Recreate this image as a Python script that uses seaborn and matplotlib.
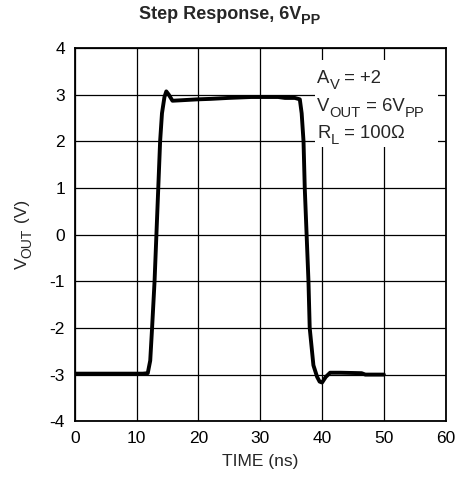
import numpy as np
import pandas as pd
import seaborn as sns
import matplotlib.pyplot as plt
from matplotlib.transforms import offset_copy

# waveform (ns, V)
time_ns = [0.0, 5.0, 11.0, 11.8, 12.2, 12.5, 12.9, 13.2, 13.5, 13.8, 14.1, 14.5, 14.8,
           15.2, 15.8, 17.2, 19.9, 22.0, 24.8, 28.5, 32.9, 34.0, 35.6, 36.4, 36.7,
           37.0, 37.2, 37.5, 37.8, 38.0, 38.6, 39.2, 39.6, 40.0, 40.6, 41.3, 43.0,
           46.4, 47.0, 50.0]
v_out = [-2.98, -2.98, -2.98, -2.97, -2.7, -2.0, -1.0, 0.0, 1.0, 2.0, 2.6, 2.95, 3.07,
         3.0, 2.87, 2.88, 2.9, 2.91, 2.93, 2.95, 2.95, 2.93, 2.93, 2.9, 2.6,
         2.0, 1.0, 0.0, -1.0, -2.0, -2.8, -3.05, -3.15, -3.17, -3.05, -2.96, -2.96,
         -2.97, -3.0, -3.0]

x_ticks = [0, 10, 20, 30, 40, 50, 60]
y_ticks = [-4, -3, -2, -1, 0, 1, 2, 3, 4]

# (text, is_subscript)
title_parts = [("Step Response, 6V", False), ("PP", True)]
ylabel_parts = [("V", False), ("OUT", True), (" (V)", False)]
cond_lines = [
    [("A", False), ("V", True), (" = +2", False)],
    [("V", False), ("OUT", True), (" = 6V", False), ("PP", True)],
    [("R", False), ("L", True), (" = 100Ω", False)],
]

df = pd.DataFrame({"time": time_ns, "vout": v_out})

sns.set_style("white")
plt.rcParams.update({
    "font.family": ["Liberation Sans", "DejaVu Sans"],
    "axes.unicode_minus": False,
})

fs = 12.5
fig = plt.figure(figsize=(4.59, 4.95), dpi=100)
ax = fig.add_axes([0.163, 0.149, 0.808, 0.754])
renderer = fig.canvas.get_renderer()


def sub_text(x, y, parts, size, transform, center=False, rot=False, **kw):
    """Draw text with datasheet style subscripts (bigger and lower than mathtext)."""
    sizes, drops, widths = [], [], []
    for s, sub in parts:
        fsz = size * 0.8 if sub else size
        t = fig.text(0, 0, s, fontsize=fsz, **kw)
        w = t.get_window_extent(renderer).width * 72 / fig.dpi
        t.remove()
        sizes.append(fsz)
        drops.append(-size * 0.3 if sub else 0.0)
        widths.append(w)
    start = -sum(widths) / 2 if center else 0.0
    pos = start
    for (s, sub), fsz, dy, w in zip(parts, sizes, drops, widths):
        if rot:
            tr = offset_copy(transform, fig=fig, x=-dy, y=pos, units="points")
            fig.text(x, y, s, fontsize=fsz, transform=tr, rotation=90,
                     rotation_mode="anchor", ha="left", va="baseline", zorder=4, **kw)
        else:
            tr = offset_copy(transform, fig=fig, x=pos, y=dy, units="points")
            fig.text(x, y, s, fontsize=fsz, transform=tr, ha="left",
                     va="baseline", zorder=4, **kw)
        pos += w


sns.lineplot(data=df, x="time", y="vout", ax=ax, color="black", linewidth=2.8,
             estimator=None, sort=False, zorder=3)

ax.set_xlim(0, 60)
ax.set_ylim(-4, 4)
ax.set_xticks(x_ticks)
ax.set_yticks(y_ticks)
ax.grid(True, color="black", linewidth=0.9)
ax.set_axisbelow(True)
for s in ax.spines.values():
    s.set_visible(True)
    s.set_color("black")
    s.set_linewidth(1.3)
ax.tick_params(length=0, labelsize=fs, pad=7, colors="black")

ax.set_xlabel("TIME (ns)", fontsize=fs, labelpad=6)
ax.set_ylabel("")

sub_text(0.5, 0.962, title_parts, 13, fig.transFigure, center=True,
         fontweight="bold")
sub_text(0.058, 0.526, ylabel_parts, fs, fig.transFigure, center=True, rot=True)

# annotation box with conditions
ax.fill_between([38.9, 58.7], 1.88, 3.74, color="white", zorder=2, linewidth=0)
for yv, parts in zip([3.25, 2.64, 2.07], cond_lines):
    sub_text(39.2, yv, parts, 13.3, ax.transData)

fig.savefig("out.png", dpi=100)
